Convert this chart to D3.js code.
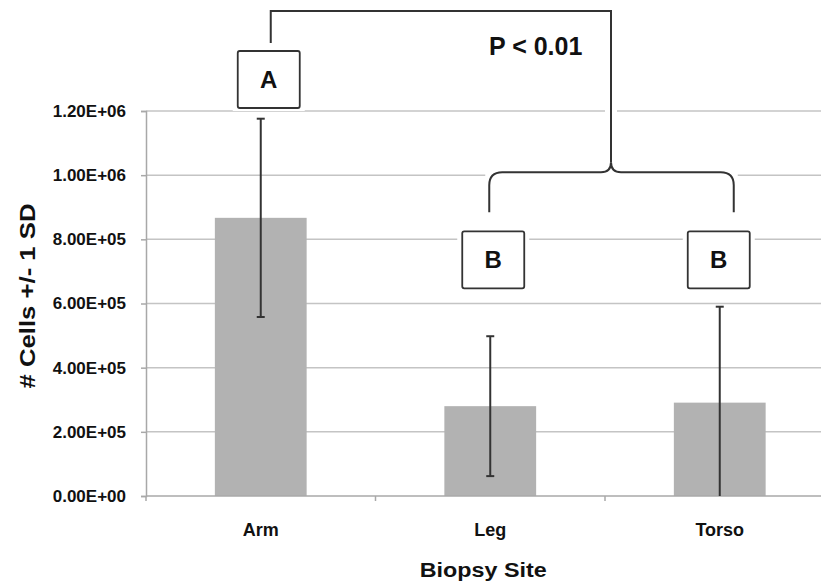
<!DOCTYPE html>
<html>
<head>
<meta charset="utf-8">
<script src="https://cdn.jsdelivr.net/npm/d3@7"></script>
<style>
  html, body { margin: 0; padding: 0; background: #fff; }
  svg { display: block; font-family: "Liberation Sans", Arial, Helvetica, sans-serif; }
</style>
</head>
<body>
<svg id="chart" width="821" height="586"></svg>
<script>
// Cell counts per biopsy site (mean and one standard deviation)
const categories = ["Arm", "Leg", "Torso"];
const means = [867000, 280000, 291000];
const sds = [309000, 218000, 299000];
const groupLetters = ["A", "B", "B"];
const yTickValues = [0, 200000, 400000, 600000, 800000, 1000000, 1200000];
const yTickLabels = ["0.00E+00", "2.00E+05", "4.00E+05", "6.00E+05", "8.00E+05", "1.00E+06", "1.20E+06"];
const yTitle = "# Cells +/- 1 SD";
const xTitle = "Biopsy Site";
const pLabel = "P < 0.01";

const svg = d3.select("#chart");
const plotLeft = 146, plotRight = 834.5, plotTop = 111, plotBottom = 496;

const x = d3.scaleBand().domain(categories).range([plotLeft, plotRight])
  .paddingInner(0.6).paddingOuter(0.3);
const y = d3.scaleLinear().domain([0, 1200000]).range([plotBottom, plotTop]);
const cx = c => x(c) + x.bandwidth() / 2;

// horizontal gridlines
svg.append("g").selectAll("line").data(yTickValues.slice(1)).join("line")
  .attr("x1", plotLeft).attr("x2", plotRight)
  .attr("y1", d => y(d)).attr("y2", d => y(d))
  .attr("stroke", "#c4c4c4").attr("stroke-width", 1.5);

// y axis
const yAxis = d3.axisLeft(y).tickValues(yTickValues)
  .tickFormat((d, i) => yTickLabels[i]).tickSize(5).tickPadding(15);
const gy = svg.append("g").attr("transform", `translate(${plotLeft},0)`).call(yAxis);
gy.select(".domain").attr("stroke", "#a8a8a8").attr("stroke-width", 1.5);
gy.selectAll(".tick line").attr("stroke", "#a8a8a8").attr("stroke-width", 1.5);
gy.selectAll(".tick text").attr("font-size", 17).attr("font-weight", "bold")
  .attr("fill", "#111").attr("font-family", "Liberation Sans, Arial, sans-serif");

// bars
svg.append("g").selectAll("rect").data(categories).join("rect")
  .attr("x", d => x(d)).attr("width", x.bandwidth())
  .attr("y", (d, i) => y(means[i])).attr("height", (d, i) => y(0) - y(means[i]))
  .attr("fill", "#b2b2b2");

// x axis line with boundary ticks between categories
svg.append("line").attr("x1", plotLeft).attr("x2", plotRight).attr("y1", plotBottom).attr("y2", plotBottom)
  .attr("stroke", "#a8a8a8").attr("stroke-width", 1.5);
const step = x.step();
const bounds = d3.range(categories.length + 1).map(i => plotLeft + i * step);
svg.append("g").selectAll("line").data(bounds).join("line")
  .attr("x1", d => d).attr("x2", d => d).attr("y1", plotBottom).attr("y2", plotBottom + 5)
  .attr("stroke", "#a8a8a8").attr("stroke-width", 1.5);

// error bars (clipped at the axis)
const eb = svg.append("g").attr("stroke", "#333").attr("stroke-width", 2);
categories.forEach((c, i) => {
  const hi = means[i] + sds[i];
  const lo = Math.max(0, means[i] - sds[i]);
  eb.append("line").attr("x1", cx(c)).attr("x2", cx(c)).attr("y1", y(hi)).attr("y2", y(lo));
  eb.append("line").attr("x1", cx(c) - 4).attr("x2", cx(c) + 4).attr("y1", y(hi)).attr("y2", y(hi));
  if (means[i] - sds[i] > 0)
    eb.append("line").attr("x1", cx(c) - 4).attr("x2", cx(c) + 4).attr("y1", y(lo)).attr("y2", y(lo));
});

// category labels
svg.append("g").selectAll("text").data(categories).join("text")
  .attr("x", d => cx(d)).attr("y", plotBottom + 40)
  .attr("text-anchor", "middle").attr("font-size", 18).attr("font-weight", "bold")
  .attr("fill", "#111").text(d => d);

// axis titles
svg.append("text").attr("x", (plotLeft + plotRight - 14) / 2).attr("y", 577)
  .attr("text-anchor", "middle").attr("font-size", 20).attr("font-weight", "bold")
  .attr("textLength", 127).attr("lengthAdjust", "spacingAndGlyphs")
  .attr("fill", "#111").text(xTitle);
svg.append("text").attr("transform", `translate(35,296) rotate(-90)`)
  .attr("text-anchor", "middle").attr("font-size", 22).attr("font-weight", "bold")
  .attr("textLength", 185).attr("lengthAdjust", "spacingAndGlyphs")
  .attr("fill", "#111").text(yTitle);

// significance annotation: letter boxes, brace and bracket
const ann = svg.append("g");
const boxW = 62, boxH = 57;
const boxShift = [8, 3, -1];
const boxTop = [y(1200000) - 60, y(800000) - 8, y(800000) - 8];
categories.forEach((c, i) => {
  const bx = cx(c) + boxShift[i] - boxW / 2;
  ann.append("rect").attr("x", bx - 5).attr("y", boxTop[i] - 3)
    .attr("width", boxW + 10).attr("height", boxH + 6).attr("fill", "#fff");
  ann.append("rect").attr("x", bx).attr("y", boxTop[i]).attr("width", boxW).attr("height", boxH)
    .attr("rx", 2).attr("fill", "#fff").attr("stroke", "#333").attr("stroke-width", 1.8);
  ann.append("text").attr("x", bx + boxW / 2).attr("y", boxTop[i] + boxH / 2 + 8.5)
    .attr("text-anchor", "middle").attr("font-size", 24).attr("font-weight", "bold")
    .attr("fill", "#111").text(groupLetters[i]);
});

const bL = cx("Leg") - 1, bR = cx("Torso") + 14, bMid = 611;
const braceY = y(1000000) - 3, braceEnd = y(800000) - 27;
ann.append("rect").attr("x", bL - 4).attr("y", braceY - 8).attr("width", bR - bL + 8)
  .attr("height", braceEnd - braceY + 10).attr("fill", "#fff");
ann.append("rect").attr("x", bMid - 6).attr("y", 11).attr("width", 12)
  .attr("height", braceY - 11).attr("fill", "#fff");

const line = ann.append("g").attr("fill", "none").attr("stroke", "#333").attr("stroke-width", 2);
const aX = cx("Arm") + 10, topY = 11;
line.append("path").attr("d",
  `M${aX},${boxTop[0] - 8} L${aX},${topY} L${bMid},${topY} L${bMid},${braceY - 10}`);
line.append("path").attr("d",
  `M${bL},${braceEnd} L${bL},${braceY + 13} Q${bL},${braceY} ${bL + 13},${braceY}` +
  ` L${bMid - 10},${braceY} Q${bMid},${braceY} ${bMid},${braceY - 10}` +
  ` Q${bMid},${braceY} ${bMid + 10},${braceY} L${bR - 13},${braceY}` +
  ` Q${bR},${braceY} ${bR},${braceY + 13} L${bR},${braceEnd}`);

ann.append("text").attr("x", 489).attr("y", 55).attr("font-size", 25).attr("font-weight", "bold")
  .attr("fill", "#111").text(pLabel);
</script>
</body>
</html>
